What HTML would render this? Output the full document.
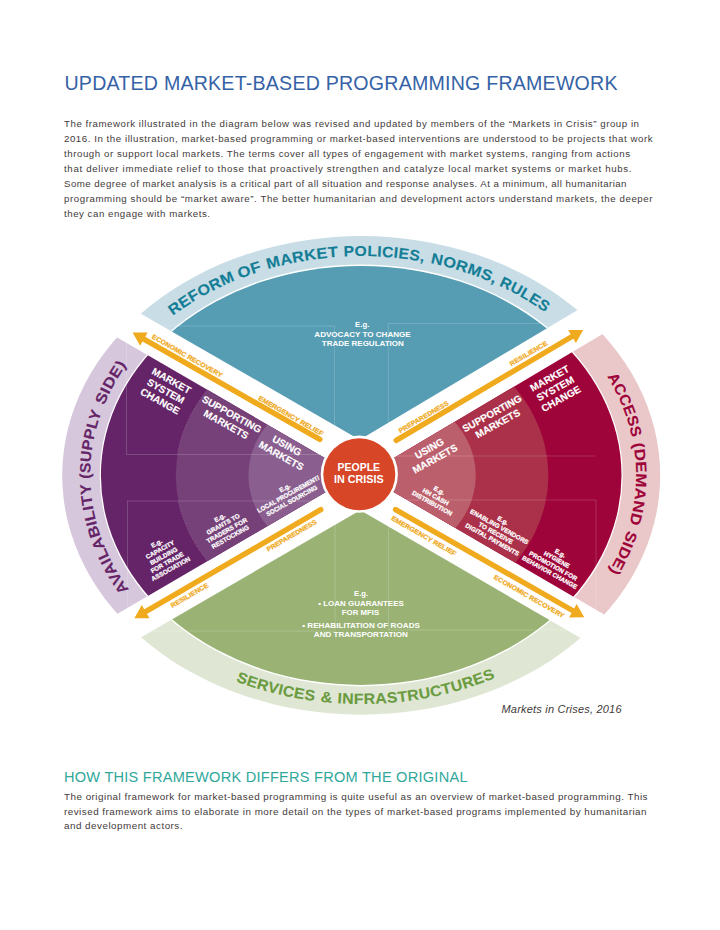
<!DOCTYPE html>
<html lang="en"><head><meta charset="utf-8"><title>Updated Market-Based Programming Framework</title>
<style>
html,body{margin:0;padding:0;background:#fff}
body{width:720px;height:930px;overflow:hidden;position:relative}
svg{position:absolute;left:0;top:0;display:block}
text{font-family:"Liberation Sans",sans-serif}
.b{font-weight:bold}
.w{fill:#fff}
.body{fill:#3f3a3a;font-size:9.7px}
</style></head><body>
<svg width="720" height="930" viewBox="0 0 720 930">
<defs>
<clipPath id="ct"><polygon points="359.7,439.7 -60.30000000000001,197.94799999999998 -60.30000000000001,0 779.7,0 779.7,189.8"/></clipPath>
<clipPath id="cb"><polygon points="360.3,510.3 -59.69999999999999,753.48 -59.69999999999999,930 780.3,930 780.3,753.69"/></clipPath>
<clipPath id="cl"><polygon points="354.5,475.2 -65.5,231.6 -65.5,720.9"/></clipPath>
<clipPath id="cr"><polygon points="364.8,475.2 784.8,225.72 784.8,719.64"/></clipPath>
<path id="wtop0" d="M172.70,315.78 L174.11,314.72 L175.53,313.68 L176.96,312.64 L178.40,311.61 L179.84,310.59 L181.30,309.58 L182.77,308.58 L184.24,307.58 L185.72,306.59 L187.21,305.61 L188.71,304.64 L190.22,303.68 L191.74,302.72 L193.26,301.78 L194.80,300.84 L196.34,299.91 L197.89,298.99 L199.45,298.08 L201.01,297.18 L202.59,296.29 L204.17,295.40 L205.76,294.53 L207.35,293.66 L208.96,292.80 L210.57,291.95 L212.19,291.11 L213.82,290.28 L215.45,289.46 L217.09,288.65 L218.74,287.84 L220.40,287.05 L222.06,286.27 L223.73,285.49 L225.41,284.72 L227.09,283.97 L228.78,283.22 L230.47,282.48 L232.18,281.76 L233.88,281.04 L235.60,280.33"/>
<path id="wtop1" d="M239.75,278.66 L240.30,278.45 L240.86,278.23 L241.41,278.02 L241.96,277.80 L242.52,277.59 L243.07,277.38 L243.63,277.17 L244.19,276.96 L244.75,276.75 L245.30,276.54 L245.86,276.34 L246.42,276.13 L246.98,275.93 L247.54,275.72 L248.10,275.52 L248.66,275.32 L249.23,275.12 L249.79,274.92 L250.35,274.72 L250.91,274.52 L251.48,274.33 L252.04,274.13 L252.61,273.94 L253.17,273.74 L253.74,273.55 L254.31,273.36 L254.88,273.17 L255.44,272.98 L256.01,272.79 L256.58,272.60 L257.15,272.42 L257.72,272.23 L258.29,272.05 L258.86,271.86 L259.43,271.68 L260.01,271.50 L260.58,271.32 L261.15,271.14 L261.73,270.96 L262.30,270.78"/>
<path id="wtop2" d="M267.80,269.15 L269.51,268.66 L271.22,268.18 L272.94,267.71 L274.66,267.25 L276.38,266.80 L278.11,266.36 L279.84,265.92 L281.57,265.50 L283.31,265.09 L285.05,264.68 L286.80,264.28 L288.55,263.90 L290.30,263.52 L292.05,263.15 L293.81,262.79 L295.57,262.44 L297.33,262.10 L299.10,261.77 L300.87,261.45 L302.64,261.13 L304.41,260.83 L306.19,260.54 L307.97,260.25 L309.75,259.97 L311.53,259.71 L313.32,259.45 L315.11,259.20 L316.90,258.97 L318.69,258.74 L320.48,258.52 L322.28,258.31 L324.07,258.11 L325.87,257.92 L327.67,257.74 L329.47,257.57 L331.28,257.40 L333.08,257.25 L334.89,257.11 L336.69,256.97 L338.50,256.85"/>
<path id="wtop3" d="M343.80,256.54 L345.82,256.44 L347.83,256.36 L349.85,256.29 L351.87,256.23 L353.89,256.18 L355.90,256.14 L357.92,256.12 L359.94,256.10 L361.96,256.10 L363.98,256.11 L366.00,256.13 L368.02,256.17 L370.04,256.21 L372.06,256.27 L374.07,256.34 L376.09,256.42 L378.11,256.52 L380.12,256.62 L382.13,256.74 L384.15,256.87 L386.16,257.01 L388.17,257.16 L390.18,257.32 L392.19,257.50 L394.19,257.68 L396.19,257.88 L398.20,258.10 L400.20,258.32 L402.19,258.55 L404.19,258.80 L406.18,259.06 L408.17,259.33 L410.16,259.61 L412.15,259.90 L414.13,260.20 L416.11,260.52 L418.09,260.85 L420.06,261.19 L422.03,261.54 L424.00,261.90"/>
<path id="wtop4" d="M430.30,263.14 L431.98,263.49 L433.66,263.86 L435.34,264.23 L437.01,264.60 L438.68,264.99 L440.35,265.39 L442.01,265.79 L443.67,266.20 L445.33,266.62 L446.98,267.05 L448.63,267.49 L450.28,267.93 L451.92,268.39 L453.56,268.85 L455.19,269.32 L456.83,269.80 L458.45,270.28 L460.08,270.78 L461.70,271.28 L463.32,271.79 L464.93,272.31 L466.54,272.84 L468.14,273.37 L469.74,273.92 L471.34,274.47 L472.93,275.03 L474.51,275.60 L476.09,276.17 L477.67,276.76 L479.24,277.35 L480.81,277.95 L482.37,278.55 L483.93,279.17 L485.49,279.79 L487.03,280.42 L488.58,281.06 L490.12,281.71 L491.65,282.36 L493.18,283.03 L494.70,283.70"/>
<path id="wtop5" d="M498.80,285.55 L500.05,286.13 L501.30,286.72 L502.55,287.31 L503.79,287.91 L505.03,288.51 L506.26,289.12 L507.49,289.73 L508.72,290.35 L509.94,290.97 L511.16,291.60 L512.37,292.24 L513.58,292.88 L514.79,293.52 L515.99,294.17 L517.18,294.82 L518.38,295.48 L519.56,296.15 L520.75,296.81 L521.93,297.49 L523.10,298.17 L524.27,298.85 L525.44,299.54 L526.60,300.23 L527.75,300.93 L528.90,301.64 L530.05,302.34 L531.19,303.06 L532.33,303.78 L533.46,304.50 L534.59,305.23 L535.71,305.96 L536.83,306.69 L537.95,307.44 L539.05,308.18 L540.16,308.93 L541.26,309.69 L542.35,310.45 L543.44,311.21 L544.52,311.98 L545.60,312.76"/>
<path id="wbot0" d="M235.70,681.15 L237.57,681.87 L239.45,682.57 L241.34,683.26 L243.24,683.94 L245.13,684.61 L247.04,685.27 L248.95,685.92 L250.87,686.56 L252.79,687.19 L254.72,687.80 L256.66,688.41 L258.59,689.00 L260.54,689.58 L262.49,690.15 L264.45,690.71 L266.41,691.26 L268.37,691.80 L270.34,692.33 L272.32,692.84 L274.30,693.34 L276.28,693.84 L278.27,694.32 L280.26,694.79 L282.26,695.24 L284.26,695.69 L286.27,696.13 L288.27,696.55 L290.29,696.96 L292.30,697.36 L294.32,697.75 L296.35,698.13 L298.37,698.49 L300.40,698.85 L302.44,699.19 L304.48,699.52 L306.51,699.84 L308.56,700.15 L310.60,700.44 L312.65,700.73 L314.70,701.00"/>
<path id="wbot1" d="M320.30,701.68 L320.60,701.72 L320.89,701.75 L321.19,701.78 L321.49,701.82 L321.78,701.85 L322.08,701.88 L322.38,701.91 L322.67,701.95 L322.97,701.98 L323.27,702.01 L323.57,702.04 L323.86,702.07 L324.16,702.10 L324.46,702.13 L324.76,702.16 L325.05,702.19 L325.35,702.22 L325.65,702.25 L325.94,702.28 L326.24,702.31 L326.54,702.34 L326.84,702.37 L327.14,702.40 L327.43,702.42 L327.73,702.45 L328.03,702.48 L328.33,702.51 L328.62,702.53 L328.92,702.56 L329.22,702.59 L329.52,702.61 L329.82,702.64 L330.11,702.66 L330.41,702.69 L330.71,702.72 L331.01,702.74 L331.31,702.77 L331.60,702.79 L331.90,702.81 L332.20,702.84"/>
<path id="wbot2" d="M337.20,703.20 L341.28,703.45 L345.37,703.65 L349.46,703.81 L353.55,703.92 L357.64,703.98 L361.73,704.00 L365.83,703.97 L369.92,703.90 L374.01,703.77 L378.10,703.61 L382.18,703.39 L386.26,703.13 L390.34,702.83 L394.41,702.48 L398.47,702.08 L402.53,701.63 L406.57,701.15 L410.61,700.61 L414.64,700.03 L418.66,699.40 L422.66,698.73 L426.65,698.02 L430.63,697.26 L434.60,696.45 L438.55,695.60 L442.49,694.71 L446.40,693.77 L450.31,692.78 L454.19,691.76 L458.05,690.69 L461.90,689.57 L465.72,688.41 L469.53,687.21 L473.31,685.97 L477.07,684.68 L480.81,683.35 L484.52,681.98 L488.20,680.57 L491.87,679.12 L495.50,677.62"/>
<path id="wleft0" d="M129.00,589.40 L127.25,586.99 L125.54,584.57 L123.86,582.12 L122.22,579.66 L120.63,577.19 L119.07,574.69 L117.54,572.19 L116.06,569.66 L114.62,567.12 L113.22,564.57 L111.85,562.00 L110.53,559.42 L109.24,556.82 L108.00,554.21 L106.80,551.59 L105.64,548.96 L104.52,546.31 L103.44,543.65 L102.40,540.98 L101.40,538.31 L100.44,535.62 L99.53,532.92 L98.66,530.21 L97.83,527.50 L97.04,524.77 L96.30,522.04 L95.60,519.30 L94.94,516.55 L94.32,513.80 L93.74,511.04 L93.21,508.27 L92.72,505.50 L92.28,502.73 L91.88,499.95 L91.52,497.16 L91.20,494.38 L90.93,491.58 L90.70,488.79 L90.51,486.00 L90.37,483.20"/>
<path id="wleft1" d="M90.23,478.80 L90.21,477.09 L90.20,475.39 L90.21,473.68 L90.23,471.98 L90.27,470.27 L90.33,468.57 L90.40,466.86 L90.49,465.16 L90.60,463.46 L90.72,461.75 L90.85,460.05 L91.01,458.35 L91.18,456.65 L91.36,454.95 L91.56,453.25 L91.78,451.56 L92.01,449.86 L92.26,448.17 L92.53,446.48 L92.81,444.79 L93.11,443.10 L93.42,441.41 L93.75,439.73 L94.10,438.05 L94.46,436.37 L94.83,434.69 L95.23,433.01 L95.64,431.34 L96.06,429.67 L96.50,428.00 L96.96,426.34 L97.43,424.68 L97.92,423.02 L98.42,421.36 L98.94,419.71 L99.47,418.06 L100.02,416.42 L100.59,414.77 L101.17,413.13 L101.76,411.50"/>
<path id="wleft2" d="M104.10,405.50 L104.54,404.44 L104.98,403.38 L105.43,402.32 L105.89,401.26 L106.35,400.21 L106.82,399.15 L107.30,398.10 L107.78,397.06 L108.27,396.01 L108.77,394.96 L109.27,393.92 L109.78,392.88 L110.30,391.84 L110.82,390.81 L111.35,389.77 L111.88,388.74 L112.43,387.71 L112.97,386.68 L113.53,385.66 L114.09,384.63 L114.66,383.61 L115.23,382.60 L115.81,381.58 L116.39,380.57 L116.99,379.56 L117.58,378.55 L118.19,377.54 L118.80,376.54 L119.42,375.54 L120.04,374.54 L120.67,373.54 L121.31,372.55 L121.95,371.56 L122.60,370.57 L123.25,369.58 L123.91,368.60 L124.58,367.62 L125.25,366.65 L125.93,365.67 L126.61,364.70"/>
<path id="wright0" d="M607.06,376.50 L607.96,377.95 L608.84,379.41 L609.71,380.87 L610.56,382.33 L611.40,383.80 L612.23,385.28 L613.04,386.76 L613.84,388.25 L614.63,389.74 L615.40,391.23 L616.16,392.73 L616.91,394.23 L617.64,395.74 L618.36,397.25 L619.06,398.77 L619.75,400.29 L620.43,401.81 L621.09,403.34 L621.74,404.88 L622.38,406.41 L623.00,407.95 L623.60,409.49 L624.20,411.04 L624.78,412.59 L625.34,414.15 L625.89,415.70 L626.43,417.26 L626.95,418.83 L627.46,420.39 L627.95,421.96 L628.43,423.53 L628.89,425.11 L629.35,426.69 L629.78,428.27 L630.20,429.85 L630.61,431.44 L631.00,433.02 L631.38,434.61 L631.75,436.21 L632.10,437.80"/>
<path id="wright1" d="M633.24,443.60 L633.59,445.61 L633.92,447.62 L634.23,449.64 L634.51,451.66 L634.77,453.68 L635.01,455.70 L635.22,457.72 L635.41,459.75 L635.58,461.77 L635.72,463.80 L635.84,465.83 L635.94,467.86 L636.01,469.89 L636.07,471.92 L636.09,473.95 L636.10,475.98 L636.08,478.01 L636.04,480.04 L635.97,482.07 L635.89,484.10 L635.78,486.12 L635.64,488.15 L635.49,490.18 L635.30,492.20 L635.10,494.23 L634.87,496.25 L634.63,498.27 L634.35,500.29 L634.06,502.31 L633.74,504.32 L633.40,506.33 L633.03,508.34 L632.64,510.35 L632.23,512.35 L631.80,514.35 L631.34,516.35 L630.87,518.34 L630.36,520.33 L629.84,522.32 L629.29,524.30"/>
<path id="wright2" d="M627.55,530.10 L627.21,531.17 L626.86,532.24 L626.50,533.31 L626.14,534.38 L625.77,535.44 L625.39,536.51 L625.01,537.57 L624.62,538.63 L624.22,539.69 L623.82,540.75 L623.41,541.80 L622.99,542.86 L622.57,543.91 L622.14,544.96 L621.70,546.01 L621.26,547.06 L620.81,548.10 L620.36,549.15 L619.90,550.19 L619.43,551.23 L618.95,552.27 L618.47,553.30 L617.98,554.34 L617.49,555.37 L616.99,556.40 L616.48,557.43 L615.97,558.46 L615.45,559.48 L614.92,560.50 L614.39,561.52 L613.85,562.54 L613.30,563.56 L612.75,564.57 L612.19,565.58 L611.63,566.59 L611.06,567.60 L610.48,568.60 L609.90,569.60 L609.31,570.60 L608.72,571.60"/>
</defs>
<g clip-path="url(#ct)"><ellipse cx="361.2" cy="475.4" rx="299.0" ry="239.3" fill="#C8DDE6" /><ellipse cx="361.2" cy="475.4" rx="261.5" ry="211.0" fill="#fff" /><ellipse cx="361.2" cy="475.4" rx="260.3" ry="209.5" fill="#569DB3" /></g>
<g clip-path="url(#cb)"><ellipse cx="361.2" cy="475.4" rx="299.0" ry="239.3" fill="#DFE7D4" /><ellipse cx="361.2" cy="475.4" rx="261.5" ry="211.0" fill="#fff" /><ellipse cx="361.2" cy="475.4" rx="260.3" ry="209.5" fill="#9AB375" /></g>
<g clip-path="url(#cl)"><ellipse cx="361.2" cy="475.4" rx="299.0" ry="239.3" fill="#D6C7DC" /><ellipse cx="361.2" cy="475.4" rx="261.5" ry="211.0" fill="#fff" /><ellipse cx="361.2" cy="475.4" rx="260.3" ry="209.5" fill="#652467" /><ellipse cx="362.1" cy="475.4" rx="186.3" ry="153.5" fill="#764078" /><ellipse cx="362.1" cy="475.4" rx="113.7" ry="92.2" fill="#8A5F8F" /></g>
<g clip-path="url(#cr)"><ellipse cx="361.2" cy="475.4" rx="299.0" ry="239.3" fill="#EAC8CA" /><ellipse cx="361.2" cy="475.4" rx="261.5" ry="211.0" fill="#fff" /><ellipse cx="361.2" cy="475.4" rx="260.3" ry="209.5" fill="#9E0339" /><ellipse cx="362.1" cy="475.4" rx="186.3" ry="153.5" fill="#AB3049" /><ellipse cx="362.1" cy="475.4" rx="113.7" ry="92.2" fill="#BC5F6C" /></g>
<path d="M595.5,456 H388.3 V323.5 H584" fill="none" stroke="#fff" stroke-opacity="0.28" stroke-width="0.6"/>
<rect x="126.4" y="326" width="208.1" height="128.39999999999998" fill="none" stroke="#fff" stroke-opacity="0.28" stroke-width="0.6"/>
<rect x="127.5" y="501" width="207.5" height="130" fill="none" stroke="#fff" stroke-opacity="0.28" stroke-width="0.6"/>
<rect x="388.3" y="500" width="207.7" height="130" fill="none" stroke="#fff" stroke-opacity="0.28" stroke-width="0.6"/>
<clipPath id="cdot"><rect x="100" y="340" width="260" height="114"/><rect x="100" y="501" width="260" height="110"/></clipPath>
<g clip-path="url(#cl)"><g clip-path="url(#cdot)"><ellipse cx="362.1" cy="475.4" rx="186.3" ry="153.5" fill="none" stroke="#fff" stroke-opacity="0.35" stroke-width="0.7" stroke-dasharray="0.7 0.9"/></g></g>
<circle cx="359.3" cy="474.2" r="38.6" fill="#fff"/>
<circle cx="359.3" cy="474.2" r="36" fill="#D84628"/>
<text class="b w" font-size="10.5" text-anchor="middle" x="358.8" y="470.8" textLength="42.6" lengthAdjust="spacingAndGlyphs">PEOPLE</text>
<text class="b w" font-size="10.5" text-anchor="middle" x="358.8" y="482.6" textLength="49.7" lengthAdjust="spacingAndGlyphs">IN CRISIS</text>
<line x1="319.85" y1="439.46" x2="143.02" y2="338.55" stroke="#F0AA1E" stroke-width="5.4" stroke-linecap="round"/><polygon points="132.60,332.60 147.68,332.40 140.10,345.69" fill="#F0AA1E"/>
<line x1="396.22" y1="440.33" x2="572.87" y2="336.00" stroke="#F0AA1E" stroke-width="5.4" stroke-linecap="round"/><polygon points="583.20,329.90 575.90,343.10 568.12,329.92" fill="#F0AA1E"/>
<line x1="320.72" y1="509.66" x2="144.77" y2="612.16" stroke="#F0AA1E" stroke-width="5.4" stroke-linecap="round"/><polygon points="134.40,618.20 141.78,605.05 149.48,618.27" fill="#F0AA1E"/>
<line x1="395.65" y1="509.64" x2="573.78" y2="611.25" stroke="#F0AA1E" stroke-width="5.4" stroke-linecap="round"/><polygon points="584.20,617.20 569.12,617.40 576.70,604.11" fill="#F0AA1E"/>
<g transform="translate(165.90,391.00) rotate(29.0)" font-size="10" text-anchor="middle" class="b w" stroke="#fff" stroke-width="0.15"><text x="0" y="-8.12">MARKET</text><text x="0" y="3.58">SYSTEM</text><text x="0" y="15.28">CHANGE</text></g>
<g transform="translate(229.00,419.20) rotate(29.0)" font-size="10" text-anchor="middle" class="b w" stroke="#fff" stroke-width="0.15"><text x="0" y="-2.27">SUPPORTING</text><text x="0" y="9.43">MARKETS</text></g>
<g transform="translate(284.20,450.60) rotate(29.0)" font-size="10" text-anchor="middle" class="b w" stroke="#fff" stroke-width="0.15"><text x="0" y="-2.27">USING</text><text x="0" y="9.43">MARKETS</text></g>
<g transform="translate(555.20,388.50) rotate(-29.0)" font-size="10" text-anchor="middle" class="b w" stroke="#fff" stroke-width="0.15"><text x="0" y="-8.12">MARKET</text><text x="0" y="3.58">SYSTEM</text><text x="0" y="15.28">CHANGE</text></g>
<g transform="translate(494.80,418.40) rotate(-29.0)" font-size="10" text-anchor="middle" class="b w" stroke="#fff" stroke-width="0.15"><text x="0" y="-2.27">SUPPORTING</text><text x="0" y="9.43">MARKETS</text></g>
<g transform="translate(432.10,453.50) rotate(-29.0)" font-size="10" text-anchor="middle" class="b w" stroke="#fff" stroke-width="0.15"><text x="0" y="-2.27">USING</text><text x="0" y="9.43">MARKETS</text></g>
<g transform="translate(163.60,556.00) rotate(-29.0)" font-size="6.3" text-anchor="middle" class="b w" stroke="#fff" stroke-width="0.25"><text x="0" y="-12.34">E.g.</text><text x="0" y="-5.04">CAPACITY</text><text x="0" y="2.26">BUILDING</text><text x="0" y="9.56">FOR TRADE</text><text x="0" y="16.86">ASSOCIATION</text></g>
<g transform="translate(224.90,527.20) rotate(-29.0)" font-size="6.3" text-anchor="middle" class="b w" stroke="#fff" stroke-width="0.25"><text x="0" y="-8.69">E.g.</text><text x="0" y="-1.39">GRANTS TO</text><text x="0" y="5.91">TRADERS FOR</text><text x="0" y="13.21">RESTOCKING</text></g>
<g transform="translate(288.20,494.20) rotate(-29.0)" font-size="6.3" text-anchor="middle" class="b w" stroke="#fff" stroke-width="0.25"><text x="0" y="-5.04">E.g.</text><text x="0" y="2.26" textLength="69.8" lengthAdjust="spacingAndGlyphs">LOCAL PROCUREMENT/</text><text x="0" y="9.56" textLength="57.2" lengthAdjust="spacingAndGlyphs">SOCIAL SOURCING</text></g>
<g transform="translate(435.70,496.80) rotate(29.0)" font-size="6.3" text-anchor="middle" class="b w" stroke="#fff" stroke-width="0.25"><text x="0" y="-5.04">E.g.</text><text x="0" y="2.26">HH CASH</text><text x="0" y="9.56">DISTRIBUTION</text></g>
<g transform="translate(497.60,529.90) rotate(29.0)" font-size="6.3" text-anchor="middle" class="b w" stroke="#fff" stroke-width="0.25"><text x="0" y="-8.69">E.g.</text><text x="0" y="-1.39">ENABLING VENDORS</text><text x="0" y="5.91">TO RECEIVE</text><text x="0" y="13.21">DIGITAL PAYMENTS</text></g>
<g transform="translate(555.00,562.70) rotate(29.0)" font-size="6.3" text-anchor="middle" class="b w" stroke="#fff" stroke-width="0.25"><text x="0" y="-8.69">E.g.</text><text x="0" y="-1.39">HYGIENE</text><text x="0" y="5.91">PROMOTION FOR</text><text x="0" y="13.21">BEHAVIOR CHANGE</text></g>
<text class="b" fill="#F0AA1E" font-size="6.5" stroke="#F0AA1E" stroke-width="0.25" text-anchor="middle" transform="translate(186.90,356.20) rotate(29.7)" y="1.8" textLength="79.9" lengthAdjust="spacingAndGlyphs">ECONOMIC RECOVERY</text>
<text class="b" fill="#F0AA1E" font-size="6.5" stroke="#F0AA1E" stroke-width="0.25" text-anchor="middle" transform="translate(290.70,416.25) rotate(29.7)" y="1.8" textLength="73.6" lengthAdjust="spacingAndGlyphs">EMERGENCY RELIEF</text>
<text class="b" fill="#F0AA1E" font-size="6.5" stroke="#F0AA1E" stroke-width="0.25" text-anchor="middle" transform="translate(423.80,417.30) rotate(-30.5)" y="1.8" textLength="56.6" lengthAdjust="spacingAndGlyphs">PREPAREDNESS</text>
<text class="b" fill="#F0AA1E" font-size="6.5" stroke="#F0AA1E" stroke-width="0.25" text-anchor="middle" transform="translate(528.80,353.80) rotate(-30.5)" y="1.8" textLength="42.8" lengthAdjust="spacingAndGlyphs">RESILIENCE</text>
<text class="b" fill="#F0AA1E" font-size="6.5" stroke="#F0AA1E" stroke-width="0.25" text-anchor="middle" transform="translate(291.30,535.00) rotate(-30.2)" y="2.9" textLength="56.6" lengthAdjust="spacingAndGlyphs">PREPAREDNESS</text>
<text class="b" fill="#F0AA1E" font-size="6.5" stroke="#F0AA1E" stroke-width="0.25" text-anchor="middle" transform="translate(189.20,594.80) rotate(-30.2)" y="2.9" textLength="42.8" lengthAdjust="spacingAndGlyphs">RESILIENCE</text>
<text class="b" fill="#F0AA1E" font-size="6.5" stroke="#F0AA1E" stroke-width="0.25" text-anchor="middle" transform="translate(424.10,535.30) rotate(29.7)" y="2.9" textLength="73.6" lengthAdjust="spacingAndGlyphs">EMERGENCY RELIEF</text>
<text class="b" fill="#F0AA1E" font-size="6.5" stroke="#F0AA1E" stroke-width="0.25" text-anchor="middle" transform="translate(529.40,595.80) rotate(29.7)" y="2.9" textLength="79.9" lengthAdjust="spacingAndGlyphs">ECONOMIC RECOVERY</text>
<text class="b w" font-size="7.7" text-anchor="middle" x="362.2" y="327.1" textLength="14.2" lengthAdjust="spacingAndGlyphs">E.g.</text>
<text class="b w" font-size="7.7" text-anchor="middle" x="362.5" y="336.7" textLength="96.3" lengthAdjust="spacingAndGlyphs">ADVOCACY TO CHANGE</text>
<text class="b w" font-size="7.7" text-anchor="middle" x="362.8" y="345.6" textLength="82" lengthAdjust="spacingAndGlyphs">TRADE REGULATION</text>
<text class="b w" font-size="7.5" text-anchor="middle" x="361.1" y="596.0" textLength="14.2" lengthAdjust="spacingAndGlyphs">E.g.</text>
<text class="b w" font-size="7.5" text-anchor="middle" x="361.0" y="605.6" textLength="85.6" lengthAdjust="spacingAndGlyphs">• LOAN GUARANTEES</text>
<text class="b w" font-size="7.5" text-anchor="middle" x="360.5" y="614.9" textLength="37.5" lengthAdjust="spacingAndGlyphs">FOR MFIS</text>
<text class="b w" font-size="7.5" text-anchor="middle" x="361.1" y="627.8" textLength="117.8" lengthAdjust="spacingAndGlyphs">• REHABILITATION OF ROADS</text>
<text class="b w" font-size="7.5" text-anchor="middle" x="360.8" y="636.7" textLength="94" lengthAdjust="spacingAndGlyphs">AND TRANSPORTATION</text>
<text class="b" font-size="15" letter-spacing="0.3" fill="#147D96" stroke="#147D96" stroke-width="0.12"><textPath href="#wtop0" startOffset="0" textLength="72.4" lengthAdjust="spacingAndGlyphs">REFORM</textPath></text>
<text class="b" font-size="15" letter-spacing="0.3" fill="#147D96" stroke="#147D96" stroke-width="0.12"><textPath href="#wtop1" startOffset="0" textLength="23.9" lengthAdjust="spacingAndGlyphs">OF</textPath></text>
<text class="b" font-size="15" letter-spacing="0.3" fill="#147D96" stroke="#147D96" stroke-width="0.12"><textPath href="#wtop2" startOffset="0" textLength="71.9" lengthAdjust="spacingAndGlyphs">MARKET</textPath></text>
<text class="b" font-size="15" letter-spacing="0.3" fill="#147D96" stroke="#147D96" stroke-width="0.12"><textPath href="#wtop3" startOffset="0" textLength="80.6" lengthAdjust="spacingAndGlyphs">POLICIES,</textPath></text>
<text class="b" font-size="15" letter-spacing="0.3" fill="#147D96" stroke="#147D96" stroke-width="0.12"><textPath href="#wtop4" startOffset="0" textLength="67.7" lengthAdjust="spacingAndGlyphs">NORMS,</textPath></text>
<text class="b" font-size="15" letter-spacing="0.3" fill="#147D96" stroke="#147D96" stroke-width="0.12"><textPath href="#wtop5" startOffset="0" textLength="54.2" lengthAdjust="spacingAndGlyphs">RULES</textPath></text>
<text class="b" font-size="15" letter-spacing="0.3" fill="#6A9B3E" stroke="#6A9B3E" stroke-width="0.12"><textPath href="#wbot0" startOffset="0" textLength="81.6" lengthAdjust="spacingAndGlyphs">SERVICES</textPath></text>
<text class="b" font-size="15" letter-spacing="0.3" fill="#6A9B3E" stroke="#6A9B3E" stroke-width="0.12"><textPath href="#wbot1" startOffset="0" textLength="12.0" lengthAdjust="spacingAndGlyphs">&amp;</textPath></text>
<text class="b" font-size="15" letter-spacing="0.3" fill="#6A9B3E" stroke="#6A9B3E" stroke-width="0.12"><textPath href="#wbot2" startOffset="0" textLength="161.8" lengthAdjust="spacingAndGlyphs">INFRASTRUCTURES</textPath></text>
<text class="b" font-size="15" letter-spacing="0.3" fill="#652467" stroke="#652467" stroke-width="0.12"><textPath href="#wleft0" startOffset="0" textLength="114.7" lengthAdjust="spacingAndGlyphs">AVAILABILITY</textPath></text>
<text class="b" font-size="15" letter-spacing="0.3" fill="#652467" stroke="#652467" stroke-width="0.12"><textPath href="#wleft1" startOffset="0" textLength="68.7" lengthAdjust="spacingAndGlyphs">(SUPPLY</textPath></text>
<text class="b" font-size="15" letter-spacing="0.3" fill="#652467" stroke="#652467" stroke-width="0.12"><textPath href="#wleft2" startOffset="0" textLength="46.7" lengthAdjust="spacingAndGlyphs">SIDE)</textPath></text>
<text class="b" font-size="15" letter-spacing="0.3" fill="#9E0339" stroke="#9E0339" stroke-width="0.12"><textPath href="#wright0" startOffset="0" textLength="66.5" lengthAdjust="spacingAndGlyphs">ACCESS</textPath></text>
<text class="b" font-size="15" letter-spacing="0.3" fill="#9E0339" stroke="#9E0339" stroke-width="0.12"><textPath href="#wright1" startOffset="0" textLength="81.5" lengthAdjust="spacingAndGlyphs">(DEMAND</textPath></text>
<text class="b" font-size="15" letter-spacing="0.3" fill="#9E0339" stroke="#9E0339" stroke-width="0.12"><textPath href="#wright2" startOffset="0" textLength="45.7" lengthAdjust="spacingAndGlyphs">SIDE)</textPath></text>
<text x="64.5" y="90" font-size="19.6" fill="#3562A6" textLength="553" lengthAdjust="spacing">UPDATED MARKET-BASED PROGRAMMING FRAMEWORK</text>
<text class="body" x="64" y="126.5" textLength="575" lengthAdjust="spacing">The framework illustrated in the diagram below was revised and updated by members of the “Markets in Crisis” group in</text>
<text class="body" x="64" y="141.5" textLength="588.5" lengthAdjust="spacing">2016. In the illustration, market-based programming or market-based interventions are understood to be projects that work</text>
<text class="body" x="64" y="156.5" textLength="566" lengthAdjust="spacing">through or support local markets. The terms cover all types of engagement with market systems, ranging from actions</text>
<text class="body" x="64" y="171.5" textLength="567.5" lengthAdjust="spacing">that deliver immediate relief to those that proactively strengthen and catalyze local market systems or market hubs.</text>
<text class="body" x="64" y="186.5" textLength="562.5" lengthAdjust="spacing">Some degree of market analysis is a critical part of all situation and response analyses. At a minimum, all humanitarian</text>
<text class="body" x="64" y="201.5" textLength="588.5" lengthAdjust="spacing">programming should be “market aware”. The better humanitarian and development actors understand markets, the deeper</text>
<text class="body" x="64" y="216.5" textLength="146" lengthAdjust="spacing">they can engage with markets.</text>
<text x="501.5" y="713" font-size="11" font-style="italic" fill="#3f3a3a" textLength="120" lengthAdjust="spacing">Markets in Crises, 2016</text>
<text x="64" y="781.5" font-size="14.6" fill="#2FA79B" textLength="403.5" lengthAdjust="spacing">HOW THIS FRAMEWORK DIFFERS FROM THE ORIGINAL</text>
<text class="body" style="font-size:9.85px" x="64" y="800.0" textLength="583.5" lengthAdjust="spacing">The original framework for market-based programming is quite useful as an overview of market-based programming.  This</text>
<text class="body" style="font-size:9.85px" x="64" y="814.7" textLength="582.5" lengthAdjust="spacing">revised framework aims to elaborate in more detail on the types of market-based programs implemented by humanitarian</text>
<text class="body" style="font-size:9.85px" x="64" y="829.4" textLength="118.5" lengthAdjust="spacing">and development actors.</text>
</svg></body></html>
